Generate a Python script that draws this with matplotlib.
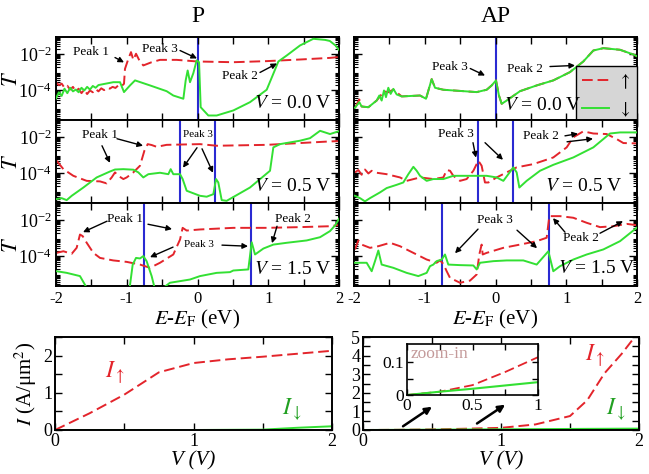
import numpy as np
import matplotlib
matplotlib.use('Agg')
import matplotlib.pyplot as plt
from matplotlib.ticker import LogLocator, NullFormatter, MultipleLocator, FixedLocator
from matplotlib.lines import Line2D

plt.rcParams['font.family'] = ['Liberation Serif', 'DejaVu Serif']
plt.rcParams['mathtext.fontset'] = 'stix'
plt.rcParams['axes.unicode_minus'] = False

# ---------------- data: transmission, log10(T) vs E-EF ----------------
# P, V = 0.0
p0_up_E = [-2.00, -1.96, -1.92, -1.88, -1.84, -1.80, -1.76, -1.72, -1.68, -1.64, -1.60, -1.56,
           -1.52, -1.48, -1.44, -1.40, -1.36, -1.32, -1.28, -1.24, -1.20, -1.16, -1.12, -1.08,
           -1.039, -1.025, -0.977, -0.940, -0.907, -0.869, -0.822, -0.766, -0.648, -0.530,
           -0.295, 0.0, 0.506, 0.978, 1.449, 1.873, 2.0]
p0_up_logT = [-3.55, -3.70, -3.62, -3.85, -3.74, -3.95, -3.80, -4.05, -3.90, -4.15, -3.95, -4.20,
              -4.00, -4.10, -3.92, -4.05, -3.88, -3.98, -3.85, -3.90, -3.80, -3.86, -3.72, -3.78,
              -3.63, -2.80, -2.24, -1.87, -2.30, -1.96, -2.33, -2.61, -2.43, -2.30,
              -2.30, -2.39, -2.43, -2.37, -2.28, -2.19, -2.14]
p0_dn_E = [-2.00, -1.96, -1.92, -1.88, -1.84, -1.80, -1.76, -1.72, -1.68, -1.64, -1.60, -1.56,
           -1.52, -1.48, -1.44, -1.40, -1.19, -1.095, -1.039, -0.954, -0.883, -0.671, -0.436,
           -0.342, -0.200, -0.167, -0.139, -0.106, -0.059, -0.012, 0.022, 0.045, 0.153, 0.271,
           0.506, 0.742, 0.978, 1.072, 1.143, 1.26, 1.449, 1.637, 1.802, 1.87, 1.95, 2.0]
p0_dn_logT = [-4.45, -4.10, -4.30, -3.90, -4.15, -3.85, -4.05, -3.95, -4.10, -3.85, -4.00, -3.80,
              -3.95, -3.75, -3.85, -3.70, -3.54, -3.54, -4.09, -3.72, -3.44, -3.72, -4.04,
              -4.28, -4.46, -3.44, -2.89, -3.54, -3.04, -2.33, -2.43, -4.93, -5.39, -5.39,
              -5.11, -4.65, -3.96, -3.07, -2.39, -2.06, -1.50, -1.13, -1.19, -1.25, -1.50, -1.75]

# P, V = 0.5
p1_up_E = [-1.991, -1.896, -1.755, -1.566, -1.378, -1.284, -1.213, -1.166, -1.119, -1.048, -1.001,
           -0.907, -0.813, -0.751, -0.704, -0.648, -0.577, -0.436, 0.035, 0.271, 0.978, 1.873, 2.0]
p1_up_logT = [-3.29, -3.76, -4.13, -4.41, -4.44, -4.55, -4.22, -3.94, -4.13, -4.31, -4.22,
              -3.94, -3.57, -2.74, -2.37, -2.42, -2.52, -2.41, -2.37, -2.46, -2.41, -2.22, -2.20]
p1_dn_E = [-1.991, -1.920, -1.849, -1.778, -1.613, -1.425, -1.237, -1.166, -1.048, -0.907, -0.836,
           -0.766, -0.695, -0.530, -0.412, -0.379, -0.342, -0.247, -0.210, -0.153, 0.035, 0.130,
           0.224, 0.262, 0.294, 0.342, 0.412, 0.742, 1.025, 1.072, 1.166, 1.449, 1.590, 1.732,
           1.873, 2.0]
p1_dn_logT = [-5.42, -5.37, -5.48, -5.24, -4.78, -4.22, -3.89, -3.78, -3.76, -3.79, -3.94,
              -4.22, -4.04, -3.96, -4.04, -3.76, -4.04, -4.04, -4.31, -4.96, -5.24, -5.29,
              -5.15, -4.31, -4.50, -5.48, -5.52, -4.78, -3.85, -2.55, -2.37, -2.18, -2.04, -1.63,
              -1.81, -1.65]

# P, V = 1.5
p2_up_E = [-1.991, -1.896, -1.778, -1.708, -1.661, -1.623, -1.566, -1.472, -1.378, -1.190, -1.001,
           -0.813, -0.671, -0.530, -0.342, -0.247, -0.210, -0.153, 0.035, 0.506, 0.978, 1.449,
           1.873, 2.0]
p2_up_logT = [-3.80, -3.71, -3.85, -3.52, -2.78, -2.87, -3.24, -3.80, -4.08, -4.22, -4.30,
              -4.45, -4.63, -4.35, -3.89, -3.06, -2.41, -2.56, -2.50, -2.41, -2.41, -2.37,
              -2.32, -2.25]
p2_dn_E = [-1.991, -1.849, -1.661, -1.566, -1.472, -0.978, -0.916, -0.869, -0.813, -0.766, -0.719,
           -0.648, -0.601, -0.483, -0.389, -0.247, -0.106, 0.035, 0.271, 0.459, 0.506, 0.718,
           0.766, 0.813, 0.931, 1.072, 1.261, 1.543, 1.732, 1.873, 1.95, 2.0]
p2_dn_logT = [-4.82, -4.91, -5.09, -5.74, -6.30, -6.30, -4.45, -4.08, -4.11, -3.98, -4.26,
              -5.09, -5.83, -5.74, -5.46, -5.37, -5.28, -5.09, -4.91, -4.87, -4.78, -4.72,
              -3.21, -3.89, -3.56, -3.34, -3.24, -3.11, -2.93, -2.59, -2.25, -1.90]

# AP, V = 0.0
ap0_up_E = [-1.986, -1.925, -1.892, -1.797, -1.680, -1.576, -1.515, -1.444, -1.326, -1.067, -0.982,
            -0.902, -0.855, -0.737, -0.266, -0.125, -0.054, 0.007, 0.049, 0.087, 0.158, 0.346,
            0.582, 0.817, 1.053, 1.241, 1.383, 1.524, 1.760, 1.948, 2.0]
ap0_up_logT = [-4.96, -4.50, -4.89, -4.93, -4.56, -4.05, -4.10, -3.95, -4.33, -4.28, -4.46,
               -3.37, -3.85, -3.96, -4.09, -3.96, -3.72, -3.44, -4.28, -4.74, -4.56, -4.04,
               -3.72, -3.44, -2.98, -2.39, -1.78, -1.65, -1.74, -2.00, -2.10]
ap0_dn_E = [-1.986, -1.925, -1.892, -1.797, -1.680, -1.642, -1.609, -1.576, -1.548, -1.515, -1.482,
            -1.444, -1.397, -1.326, -1.067, -0.982, -0.902, -0.855, -0.737, -0.266, -0.125,
            -0.054, 0.007, 0.049, 0.087, 0.158, 0.346, 0.582, 0.817, 1.053, 1.241, 1.383, 1.524,
            1.760, 1.948, 2.0]
ap0_dn_logT = [-4.96, -4.65, -4.89, -4.93, -4.56, -4.28, -4.56, -4.00, -4.37, -3.85, -4.19,
               -3.91, -4.22, -4.33, -4.28, -4.46, -3.37, -3.85, -3.96, -4.09, -3.96,
               -3.72, -3.44, -4.28, -4.74, -4.56, -4.04, -3.72, -3.44, -2.98, -2.39, -1.78, -1.65,
               -1.74, -2.00, -2.10]

# AP, V = 0.5
ap1_up_E = [-1.986, -1.939, -1.892, -1.845, -1.797, -1.750, -1.680, -1.538, -1.350, -1.256, -1.067,
            -0.879, -0.737, -0.690, -0.643, -0.596, -0.502, -0.408, -0.313, -0.243, -0.196,
            -0.149, -0.101, 0.016, 0.158, 0.299, 0.535, 0.817, 1.006, 1.100, 1.241, 1.383,
            1.571, 1.713, 1.807, 1.995]
ap1_up_logT = [-3.94, -3.81, -4.07, -3.78, -4.00, -3.85, -3.96, -4.04, -4.22, -4.41, -4.22,
               -4.31, -4.22, -3.81, -3.85, -4.13, -4.41, -4.31, -3.85, -3.29, -3.57,
               -4.50, -4.50, -4.22, -3.94, -3.66, -3.48, -3.11, -2.55, -1.99, -1.66, -1.78,
               -1.81, -2.09, -2.31, -2.33]
ap1_dn_E = [-1.986, -1.915, -1.845, -1.774, -1.632, -1.538, -1.397, -1.303, -1.232, -1.161, -1.114,
            -1.067, -0.973, -0.879, -0.737, -0.596, -0.125, 0.016, 0.111, 0.181, 0.252, 0.299,
            0.337, 0.440, 0.629, 0.817, 1.100, 1.383, 1.524, 1.618, 1.760, 1.995]
ap1_dn_logT = [-5.24, -5.37, -5.55, -5.37, -5.05, -4.81, -4.63, -4.50, -4.04, -3.63, -3.85,
               -4.13, -4.41, -4.31, -4.31, -4.13, -4.13, -4.22, -4.41, -4.04, -3.66, -3.94,
               -4.78, -4.41, -3.85, -3.52, -3.11, -2.55, -2.09, -1.78, -1.72, -1.72]

# AP, V = 1.5
ap2_up_E = [-1.986, -1.939, -1.892, -1.774, -1.656, -1.491, -1.350, -1.161, -0.973, -0.832, -0.785,
            -0.737, -0.690, -0.643, -0.502, -0.360, -0.266, -0.229, -0.196, -0.181, -0.125,
            0.111, 0.346, 0.582, 0.723, 0.761, 0.912, 1.100, 1.289, 1.477, 1.665, 1.854, 1.995]
ap2_up_logT = [-3.61, -3.11, -3.34, -3.52, -3.43, -3.24, -3.43, -3.80, -4.17, -4.35, -4.22,
               -4.41, -4.82, -5.19, -5.46, -5.34, -5.00, -3.89, -3.34, -3.89, -3.80,
               -3.52, -3.34, -3.15, -2.96, -1.76, -1.76, -1.85, -2.13, -2.37, -2.32, -2.19, -2.26]
ap2_dn_E = [-1.986, -1.821, -1.750, -1.703, -1.656, -1.609, -1.444, -1.256, -1.091, -0.973, -0.926,
            -0.879, -0.832, -0.761, -0.714, -0.667, -0.502, -0.313, -0.266, -0.219, -0.031,
            0.158, 0.393, 0.582, 0.747, 0.817, 0.912, 1.100, 1.289, 1.524, 1.760, 1.995]
ap2_dn_logT = [-4.35, -4.35, -4.82, -4.26, -3.67, -4.45, -4.63, -4.91, -5.09, -4.91, -4.54,
               -4.45, -4.26, -4.17, -3.89, -4.45, -4.48, -4.50, -4.72, -4.35, -4.26,
               -4.22, -4.22, -4.45, -3.71, -4.82, -4.54, -4.17, -3.89, -3.61, -3.15, -2.41]

# bias window edges (blue lines)
p_bias_lines = [[0.0], [-0.25, 0.25], [-0.75, 0.75]]
ap_bias_lines = [[0.0], [-0.25, 0.25], [-0.75, 0.75]]
bias_labels = ['0.0', '0.5', '1.5']

# ---------------- data: I-V ----------------
iv_V = [0.0, 0.25, 0.5, 0.75, 1.0, 1.25, 1.5, 1.75, 2.0]
p_I_up = [0.0, 0.45, 0.95, 1.55, 1.80, 1.90, 1.97, 2.05, 2.13]
p_I_dn = [0.0, 0.0, 0.0, 0.0, 0.0, 0.005, 0.01, 0.06, 0.10]
ap_V = [0.0, 0.25, 0.5, 0.75, 1.0, 1.25, 1.5, 1.625, 1.75, 1.875, 2.0]
ap_I_up = [0.0, 0.01, 0.03, 0.07, 0.115, 0.30, 0.75, 1.60, 3.05, 4.10, 5.30]
ap_I_dn = [0.0, 0.01, 0.019, 0.029, 0.039, 0.048, 0.057, 0.062, 0.066, 0.071, 0.075]

RED = '#e3242b'
GREEN = '#33e033'
BLUE = '#2a2ad2'
DASH = (5.5, 2.5)

W, H = 649, 474
fig = plt.figure(figsize=(W / 100, H / 100), dpi=100)


def px_axes(x0, y0, x1, y1):
    return fig.add_axes([x0 / W, 1 - y1 / H, (x1 - x0) / W, (y1 - y0) / H])


def style_T(ax, bottom):
    ax.set_yscale('log')
    ax.set_xlim(-2, 2)
    ax.set_ylim(10 ** -5.64, 10 ** -1.03)
    ax.yaxis.set_major_locator(FixedLocator([1e-4, 1e-2]))
    ax.yaxis.set_minor_locator(LogLocator(base=10, subs=np.arange(2, 10), numticks=20))
    ax.yaxis.set_minor_formatter(NullFormatter())
    ax.xaxis.set_major_locator(MultipleLocator(1))
    ax.xaxis.set_minor_locator(MultipleLocator(0.5))
    ax.tick_params(which='both', direction='in', top=True, right=True)
    ax.tick_params(axis='y', which='major', length=6, width=1, labelsize=13, pad=3)
    ax.tick_params(axis='y', which='minor', length=3, width=0.8)
    ax.tick_params(axis='x', which='both', length=5, width=1, labelsize=12)
    if not bottom:
        ax.tick_params(labelbottom=False)
    for s in ax.spines.values():
        s.set_linewidth(1.4)


row_tops = [37, 120, 203]
panels_p = [(p0_up_E, p0_up_logT, p0_dn_E, p0_dn_logT),
            (p1_up_E, p1_up_logT, p1_dn_E, p1_dn_logT),
            (p2_up_E, p2_up_logT, p2_dn_E, p2_dn_logT)]
panels_ap = [(ap0_up_E, ap0_up_logT, ap0_dn_E, ap0_dn_logT),
             (ap1_up_E, ap1_up_logT, ap1_dn_E, ap1_dn_logT),
             (ap2_up_E, ap2_up_logT, ap2_dn_E, ap2_dn_logT)]

axP, axAP = [], []
for r in range(3):
    for col, (x0, x1) in enumerate([(56, 339), (354, 637)]):
        ax = px_axes(x0, row_tops[r], x1, row_tops[r] + 83)
        style_T(ax, r == 2)
        data = panels_p[r] if col == 0 else panels_ap[r]
        lines = p_bias_lines[r] if col == 0 else ap_bias_lines[r]
        for e in lines:
            ax.axvline(e, color=BLUE, lw=1.5, zorder=1)
        ax.plot(data[0], 10 ** np.array(data[1]), color=RED, lw=1.4, dashes=DASH, zorder=2)
        ax.plot(data[2], 10 ** np.array(data[3]), color=GREEN, lw=1.4, zorder=3)
        if col == 0:
            ax.set_ylabel('$T$', fontsize=16, rotation=90, ha='center', va='center')
            ax.yaxis.set_label_coords(-0.155, 0.5)
            ax.text(0.975, 0.2, '$V$ = %s V' % bias_labels[r], transform=ax.transAxes,
                    ha='right', va='center', fontsize=14)
            axP.append(ax)
        else:
            ax.tick_params(labelleft=False)
            axAP.append(ax)
        if r == 2:
            ax.set_xlabel('$E$-$E_{\\mathrm{F}}$ (eV)', fontsize=15, labelpad=1)

axAP[0].text(0.805, 0.17, '$V$ = 0.0 V', transform=axAP[0].transAxes, ha='right', va='center',
             fontsize=14, zorder=12)
axAP[1].text(0.95, 0.20, '$V$ = 0.5 V', transform=axAP[1].transAxes, ha='right', va='center', fontsize=14)
axAP[2].text(0.995, 0.21, '$V$ = 1.5 V', transform=axAP[2].transAxes, ha='right', va='center', fontsize=14)

fig.text(198 / W, 1 - 16 / H, 'P', ha='center', va='center', fontsize=17)
fig.text(496 / W, 1 - 16 / H, 'AP', ha='center', va='center', fontsize=17)

# legend in AP V=0 panel
leg = axAP[0].legend([Line2D([], [], color=RED, lw=1.4, dashes=DASH),
                      Line2D([], [], color=GREEN, lw=1.4)],
                     ['$\\uparrow$', '$\\downarrow$'], loc='upper right',
                     bbox_to_anchor=(1.0, 0.65), borderaxespad=0, fancybox=False,
                     framealpha=1, facecolor='#d6d6d6', edgecolor='black', fontsize=13,
                     handlelength=1.5, labelspacing=0.55, borderpad=0.35, handletextpad=0.5)
leg.get_frame().set_linewidth(1.0)
leg.set_zorder(10)

# annotations: (axis, text, text pos (E, logT), size, arrows [(tailE, tailLog, headE, headLog)])
notes = [
    (axP[0], 'Peak 1', (-1.505, -1.89), 9.5, [(-1.166, -2.17, -1.039, -2.44)]),
    (axP[0], 'Peak 3', (-0.537, -1.67), 9.5, [(-0.247, -1.78, -0.007, -2.22)]),
    (axP[0], 'Peak 2', (0.594, -3.17), 9.5, [(0.883, -3.00, 1.124, -2.50)]),
    (axP[1], 'Peak 1', (-1.385, -1.85), 9.5, [(-1.138, -2.07, -0.770, -2.46),
                                               (-1.350, -2.46, -1.237, -3.41)]),
    (axP[1], 'Peak 3', (0.007, -1.85), 8, [(-0.007, -2.57, -0.205, -3.68),
                                             (0.064, -2.63, 0.219, -3.96)]),
    (axP[2], 'Peak 1', (-1.018, -1.93), 9.5, [(-1.279, -2.04, -1.618, -2.65),
                                               (-0.700, -2.21, -0.360, -2.48)]),
    (axP[2], 'Peak 3', (0.021, -3.32), 8, [(-0.346, -3.48, -0.671, -4.04),
                                             (0.346, -3.37, 0.714, -3.43)]),
    (axP[2], 'Peak 2', (1.343, -1.93), 9.5, [(1.124, -2.32, 1.053, -3.26)]),
    (axAP[0], 'Peak 3', (-0.650, -2.72), 9.5, [(-0.357, -2.78, -0.148, -3.17)]),
    (axAP[0], 'Peak 2', (0.410, -2.78), 9.5, [(0.770, -2.67, 1.124, -2.61)]),
    (axAP[1], 'Peak 3', (-0.565, -1.79), 9.5, [(-0.318, -2.29, -0.276, -3.12),
                                                (-0.148, -2.29, 0.106, -3.24)]),
    (axAP[1], 'Peak 2', (0.636, -1.91), 9.5, [(0.982, -1.91, 1.166, -1.79),
                                               (1.011, -2.24, 1.378, -2.07)]),
    (axAP[2], 'Peak 3', (-0.014, -1.98), 9.5, [(-0.247, -2.48, -0.572, -3.82),
                                                (0.304, -2.54, 0.587, -3.54)]),
    (axAP[2], 'Peak 2', (1.201, -2.98), 9.5, [(0.982, -2.65, 0.813, -1.87),
                                               (1.477, -2.71, 1.802, -2.04)]),
]
for ax, txt, (te, tl), fs, arrows in notes:
    ax.text(te, 10 ** tl, txt, ha='center', va='center', fontsize=fs, zorder=6)
    for (e0, l0, e1, l1) in arrows:
        ax.annotate('', xy=(e1, 10 ** l1), xytext=(e0, 10 ** l0),
                    arrowprops=dict(arrowstyle='-|>', color='black', lw=1.0,
                                    mutation_scale=8, shrinkA=0, shrinkB=0), zorder=6)

# ---------------- I-V panels ----------------
def style_iv(ax):
    ax.set_xlim(0, 2)
    ax.xaxis.set_major_locator(MultipleLocator(1))
    ax.xaxis.set_minor_locator(MultipleLocator(0.5))
    ax.tick_params(which='both', direction='in', top=True, right=True, labelsize=13,
                   length=5, width=1, pad=2)
    for s in ax.spines.values():
        s.set_linewidth(1.4)
    ax.set_xlabel('V (V)', fontsize=15, fontstyle='italic', labelpad=1)


axL = px_axes(55, 337, 332, 430)
style_iv(axL)
axL.set_ylim(0, 2.5)
axL.yaxis.set_major_locator(MultipleLocator(1))
axL.yaxis.set_minor_locator(MultipleLocator(0.5))
axL.plot(iv_V, p_I_up, color=RED, lw=1.4, dashes=DASH)
axL.plot(iv_V, p_I_dn, color=GREEN, lw=1.4)
axL.set_ylabel('$I$ (A/μm$^2$)', fontsize=15, labelpad=3)
axL.text(0.43, 1.53, '$I_{\\uparrow}$', color=RED, fontsize=17, ha='center', va='center')
axL.text(1.71, 0.55, '$I_{\\downarrow}$', color='#22a022', fontsize=17, ha='center', va='center')

axR = px_axes(363, 337, 639, 430)
style_iv(axR)
axR.set_ylim(0, 5)
axR.yaxis.set_major_locator(MultipleLocator(1))
axR.yaxis.set_minor_locator(MultipleLocator(0.5))
axR.plot(ap_V, ap_I_up, color=RED, lw=1.4, dashes=DASH)
axR.plot(ap_V, ap_I_dn, color=GREEN, lw=1.4)
axR.text(1.68, 4.0, '$I_{\\uparrow}$', color=RED, fontsize=17, ha='center', va='center')
axR.text(1.83, 1.1, '$I_{\\downarrow}$', color='#22a022', fontsize=17, ha='center', va='center')
for (v0, i0, v1, i1) in [(0.29, 0.2, 0.50, 1.25), (0.826, 0.35, 1.03, 1.36)]:
    axR.annotate('', xy=(v1, i1), xytext=(v0, i0),
                 arrowprops=dict(arrowstyle='-|>', color='black', lw=1.8,
                                 mutation_scale=10, shrinkA=0, shrinkB=0))

axI = px_axes(407, 344, 538, 395)
axI.set_xlim(0, 1)
axI.set_ylim(0, 0.155)
axI.plot(ap_V[:5], ap_I_up[:5], color=RED, lw=1.3, dashes=DASH)
axI.plot(ap_V[:5], ap_I_dn[:5], color=GREEN, lw=1.5)
axI.xaxis.set_major_locator(FixedLocator([0, 0.5, 1]))
axI.xaxis.set_minor_locator(FixedLocator([0.25, 0.75]))
axI.yaxis.set_major_locator(FixedLocator([0, 0.1]))
axI.yaxis.set_minor_locator(FixedLocator([0.05]))
axI.set_xticklabels(['0', '0.5', '1'])
axI.set_yticklabels(['0', '0.1'])
axI.tick_params(which='both', direction='in', top=True, right=True, labelsize=12.5,
                length=4, width=1, pad=2)
for s in axI.spines.values():
    s.set_linewidth(1.2)
axI.text(0.03, 0.8, 'zoom-in', transform=axI.transAxes, color='#c49a9a', fontsize=12.5,
         ha='left', va='center')

fig.savefig('out.png', dpi=100)
